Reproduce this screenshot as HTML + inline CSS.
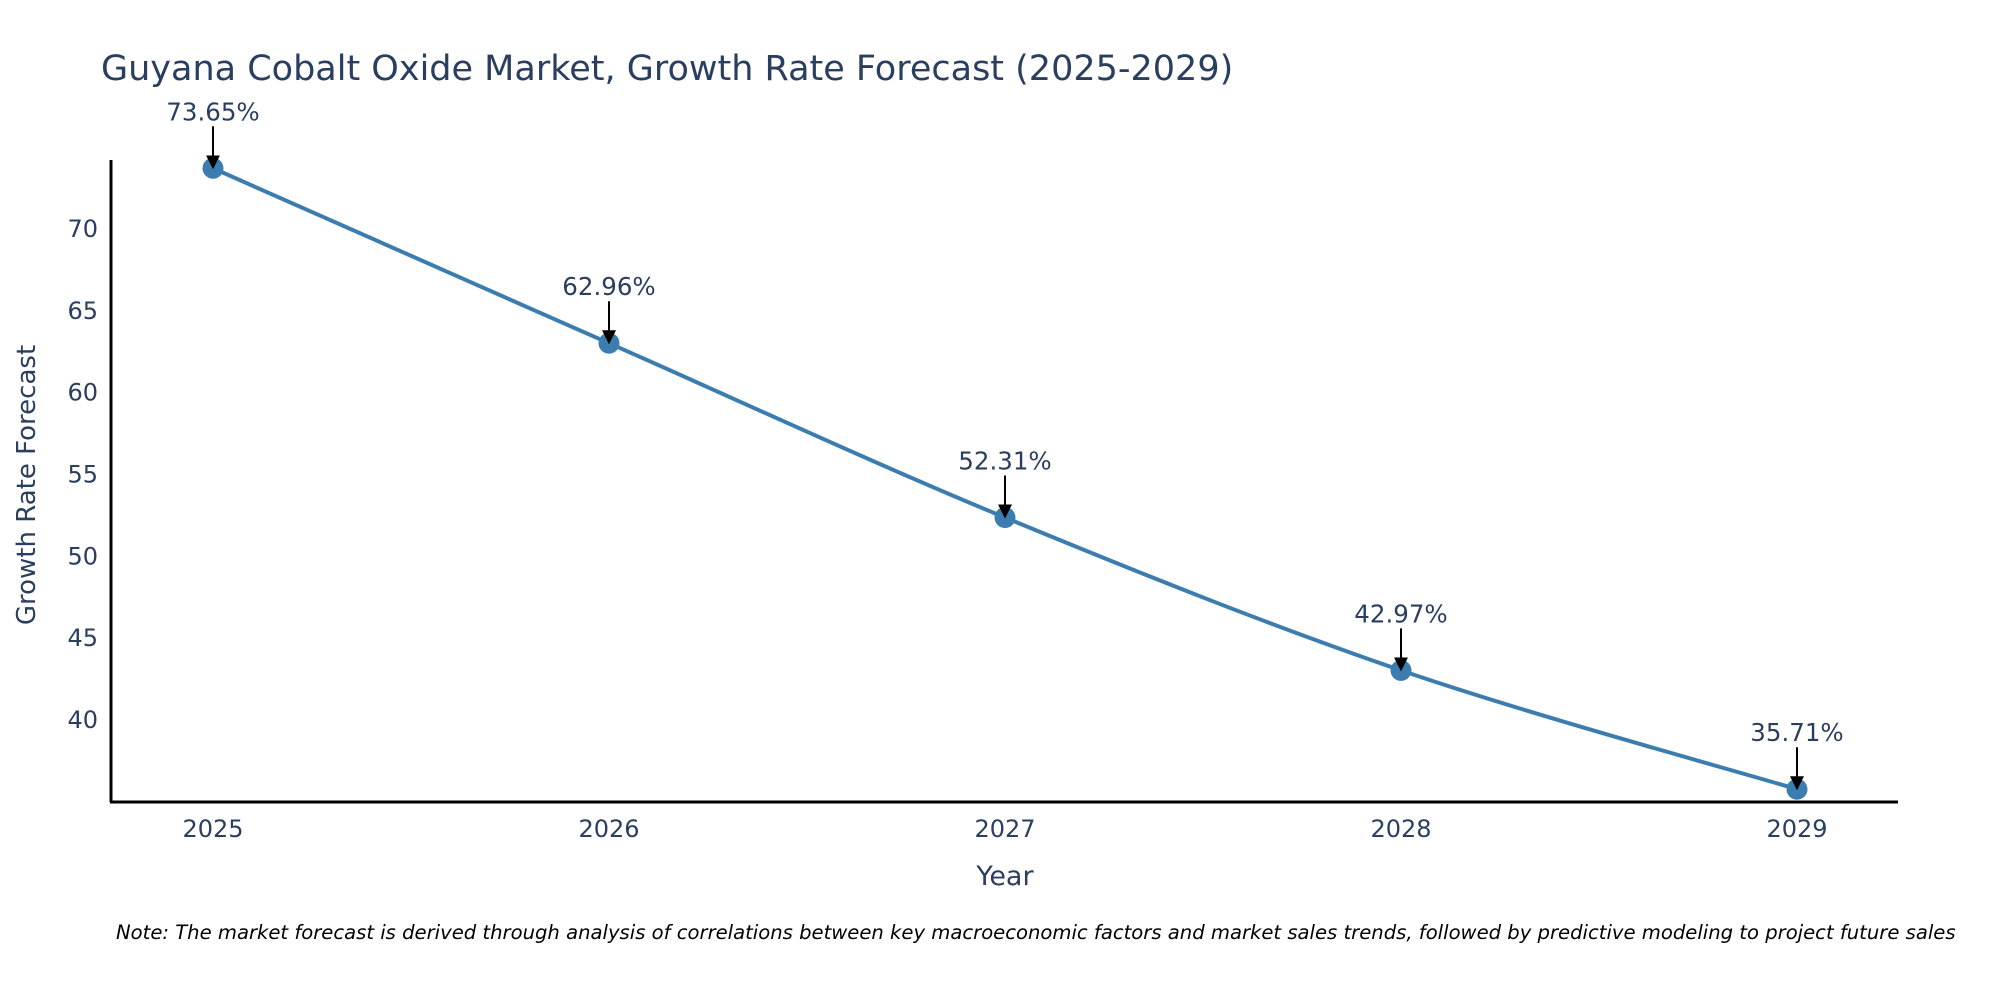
<!DOCTYPE html>
<html><head><meta charset="utf-8"><style>
html,body{margin:0;padding:0;background:#fff;}
svg text{font-family:"DejaVu Sans","Liberation Sans",sans-serif;fill:#2a3f5f;}
</style></head><body>
<svg id="chart" width="2000" height="1000" xmlns="http://www.w3.org/2000/svg">
<rect width="2000" height="1000" fill="#fff"/>
<text x="101" y="80" font-size="35">Guyana Cobalt Oxide Market, Growth Rate Forecast (2025-2029)</text>
<g id="yticks"></g><g id="xticks"></g>
<line x1="111" y1="160" x2="111" y2="802" stroke="#000" stroke-width="3"/>
<line x1="110" y1="802" x2="1898" y2="802" stroke="#000" stroke-width="3"/>
<g id="series"></g>
<text x="1005" y="885" font-size="27" text-anchor="middle">Year</text>
<text x="0" y="0" font-size="26" text-anchor="middle" transform="translate(35,485) rotate(-90)">Growth Rate Forecast</text>
<text x="116" y="939" font-size="19.6" font-style="italic" style="fill:#000">Note: The market forecast is derived through analysis of correlations between key macroeconomic factors and market sales trends, followed by predictive modeling to project future sales</text>
<defs><marker id="ah" markerWidth="14" markerHeight="14" refX="12" refY="7" orient="auto" markerUnits="userSpaceOnUse" viewBox="0 0 14 14"><path d="M0,0 L14,7 L0,14 z" fill="#000"/></marker></defs>
</svg>
<script>
const categories=["2025","2026","2027","2028","2029"];
const values=[73.65,62.96,52.31,42.97,35.71];
const labels=["73.65%","62.96%","52.31%","42.97%","35.71%"];
const yTicks=[40,45,50,55,60,65,70];
const NS="http://www.w3.org/2000/svg";
function xs(i){return 213+i*(1797-213)/(categories.length-1);}
function ys(v){return 719-(v-40)*(719-228)/30;}
function mk(tag,attrs,parent){const e=document.createElementNS(NS,tag);for(const k in attrs)e.setAttribute(k,attrs[k]);parent.appendChild(e);return e;}
const yt=document.getElementById('yticks'),xt=document.getElementById('xticks'),sr=document.getElementById('series');
yTicks.forEach(v=>{const t=mk('text',{x:98,y:ys(v)+9,'font-size':24,'text-anchor':'end'},yt);


t.textContent=v;});
categories.forEach((c,i)=>{const t=mk('text',{x:xs(i),y:837,'font-size':24,'text-anchor':'middle'},xt);


t.textContent=c;});
const P=values.map((v,i)=>[xs(i),ys(v)]);
let d='M'+P[0][0]+','+P[0][1];
for(let i=0;i<P.length-1;i++){
const p0=P[Math.max(i-1,0)],p1=P[i],p2=P[i+1],p3=P[Math.min(i+2,P.length-1)];
const k=0.5/3;
d+=' C'+(p1[0]+(p2[0]-p0[0])*k)+','+(p1[1]+(p2[1]-p0[1])*k)+' '+(p2[0]-(p3[0]-p1[0])*k)+','+(p2[1]-(p3[1]-p1[1])*k)+' '+p2[0]+','+p2[1];
}
const pl=mk('path',{d:d,fill:'none',stroke:'#3c7db0','stroke-width':4},sr);


values.forEach((v,i)=>{
const c=mk('circle',{cx:xs(i),cy:ys(v),r:10.5,fill:'#3c7db0'},sr);


const a=mk('line',{x1:xs(i),y1:ys(v)-42,x2:xs(i),y2:ys(v)-1,stroke:'#000','stroke-width':2,'marker-end':'url(#ah)'},sr);


const t=mk('text',{x:xs(i),y:ys(v)-48,'font-size':24.5,'text-anchor':'middle'},sr);


t.textContent=labels[i];
});
</script>
</body></html>
